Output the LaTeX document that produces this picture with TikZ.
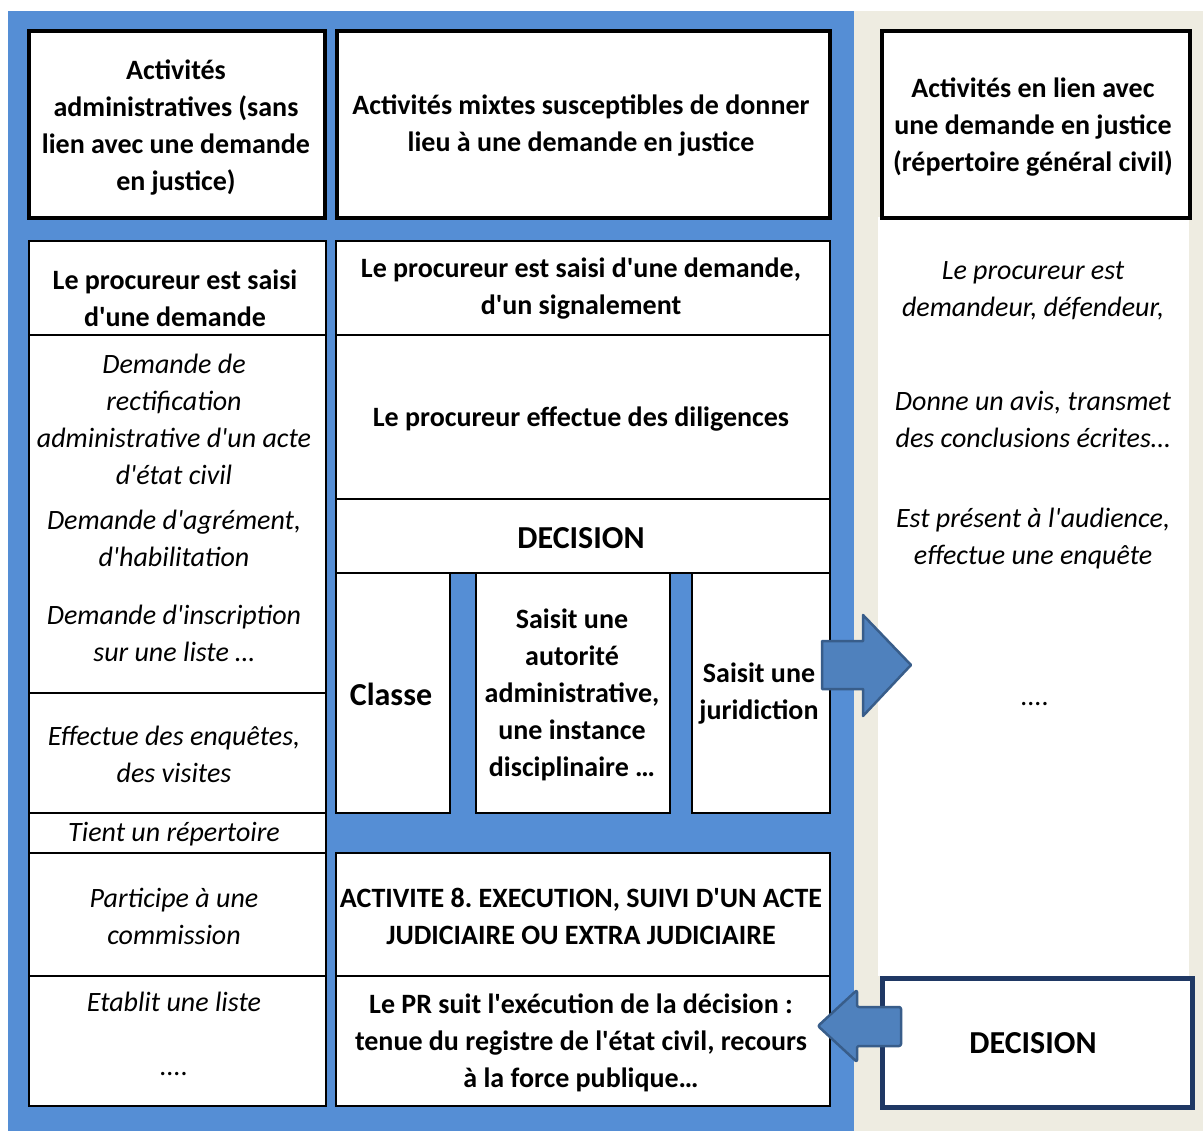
\documentclass[tikz,border=0pt]{standalone}
\usepackage{fontspec}
\setmainfont{Carlito}[Ligatures=TeXOff]
\definecolor{bgblue}{HTML}{558ED5}
\definecolor{bgtan}{HTML}{EEECE1}
\definecolor{arrowfill}{HTML}{4F81BD}
\definecolor{arrowline}{HTML}{385D8A}
\definecolor{navyline}{HTML}{1F3864}
\begin{document}
\frenchspacing
\begin{tikzpicture}[x=1pt,y=-1pt,
  cell/.style={draw=black, fill=white, line width=2pt, anchor=north west, inner sep=0pt},
  headbox/.style={draw=black, fill=white, line width=4pt, anchor=north west, inner sep=0pt},
  decbox/.style={draw=navyline, fill=white, line width=5pt, anchor=north west, inner sep=0pt},
  bt/.style={font=\fontsize{28}{37}\selectfont\bfseries, align=center, inner sep=0pt},
  it/.style={font=\fontsize{28}{37}\selectfont\itshape, align=center, inner sep=0pt},
  big/.style={font=\fontsize{32}{38}\selectfont\bfseries, align=center, inner sep=0pt},
  blockarrow/.style={fill=arrowfill, draw=arrowline, line width=2.5pt, line join=round}]
\useasboundingbox (0,0) rectangle (1203,1131);
% backgrounds
\fill[white] (0,0) rectangle (1203,1131);
\fill[bgblue] (8,11) rectangle (854,1131);
\fill[bgtan] (854,11) rectangle (1203,1131);
\fill[white] (878,217) rectangle (1189,976);
% header boxes
\node[headbox, minimum width=296pt, minimum height=187pt] (hA) at (27,29) {};
\node[headbox, minimum width=493pt, minimum height=187pt] (hB) at (335,29) {};
\node[headbox, minimum width=308pt, minimum height=187pt] (hC) at (880,29) {};
\node[bt] (thA) at (176,128) {Activités\\administratives (sans\\lien avec une demande\\en justice)};
\node[bt] (thB) at (581,126) {Activités mixtes susceptibles de donner\\lieu à une demande en justice};
\node[bt] (thC) at (1033,127) {Activités en lien avec\\une demande en justice\\(répertoire général civil)};
% left column
\node[cell, minimum width=297pt, minimum height=94pt] (L1) at (28,240) {};
\node[cell, minimum width=297pt, minimum height=358pt] (L2) at (28,334) {};
\node[cell, minimum width=297pt, minimum height=120pt] (L3) at (28,692) {};
\node[cell, minimum width=297pt, minimum height=40pt] (L4) at (28,812) {};
\node[cell, minimum width=297pt, minimum height=123pt] (L5) at (28,852) {};
\node[cell, minimum width=297pt, minimum height=130pt] (L6) at (28,975) {};
\node[bt] (tL1) at (175,298) {Le procureur est saisi\\d'une demande};
\node[it] (tL2a) at (174,419) {Demande de\\rectification\\administrative d'un acte\\d'état civil};
\node[it] (tL2b) at (174,538) {Demande d'agrément,\\d'habilitation};
\node[it] (tL2c) at (174,633) {Demande d'inscription\\sur une liste …};
\node[it] (tL3) at (174,754) {Effectue des enquêtes,\\des visites};
\node[it] (tL4) at (174,834) {Tient un répertoire};
\node[it] (tL5) at (174,916) {Participe à une\\commission};
\node[it] (tL6a) at (174,1002) {Etablit une liste};
\node[it] (tL6b) at (174,1074) {....};
% middle column
\node[cell, minimum width=494pt, minimum height=94pt] (M1) at (335,240) {};
\node[cell, minimum width=494pt, minimum height=164pt] (M2) at (335,334) {};
\node[cell, minimum width=494pt, minimum height=74pt] (M3) at (335,498) {};
\node[cell, minimum width=114pt, minimum height=240pt] (M4a) at (335,572) {};
\node[cell, minimum width=194pt, minimum height=240pt] (M4b) at (475,572) {};
\node[cell, minimum width=138pt, minimum height=240pt] (M4c) at (691,572) {};
\node[cell, minimum width=494pt, minimum height=123pt] (M5) at (335,852) {};
\node[cell, minimum width=494pt, minimum height=130pt] (M6) at (335,975) {};
\node[bt] (tM1) at (581,289) {Le procureur est saisi d'une demande,\\d'un signalement};
\node[bt] (tM2) at (581,419) {Le procureur effectue des diligences};
\node[big] (tM3) at (581,538) {DECISION};
\node[big] (tM4a) at (391,694) {Classe};
\node[bt] (tM4b) at (572,695) {Saisit une\\autorité\\administrative,\\une instance\\disciplinaire …};
\node[bt] (tM4c) at (759,694) {Saisit une\\juridiction};
\node[bt] (tM5) at (581,916) {ACTIVITE 8. EXECUTION, SUIVI D'UN ACTE\\JUDICIAIRE OU EXTRA JUDICIAIRE};
\node[bt] (tM6) at (581,1043) {Le PR suit l'exécution de la décision :\\tenue du registre de l'état civil, recours\\à la force publique…};
% right column
\node[it] (tR1) at (1033,291) {Le procureur est\\demandeur, défendeur,};
\node[it] (tR2) at (1033,419) {Donne un avis, transmet\\des conclusions écrites…};
\node[it] (tR3) at (1033,539) {Est présent à l'audience,\\effectue une enquête};
\node[it] (tR4) at (1035,704) {....};
\node[decbox, minimum width=310pt, minimum height=129pt] (RD) at (880,976) {};
\node[big] (tRD) at (1033,1043) {DECISION};
% block arrows
\draw[blockarrow] (822,641) -- (863,641) -- (863,615) -- (911,665) -- (863,716) -- (863,689) -- (822,689) -- cycle;
\draw[blockarrow, rounded corners=2pt] (901,1007) -- (857,1007) -- (857,990) -- (818,1026) -- (857,1062) -- (857,1046) -- (901,1046) -- cycle;
\end{tikzpicture}
\end{document}
